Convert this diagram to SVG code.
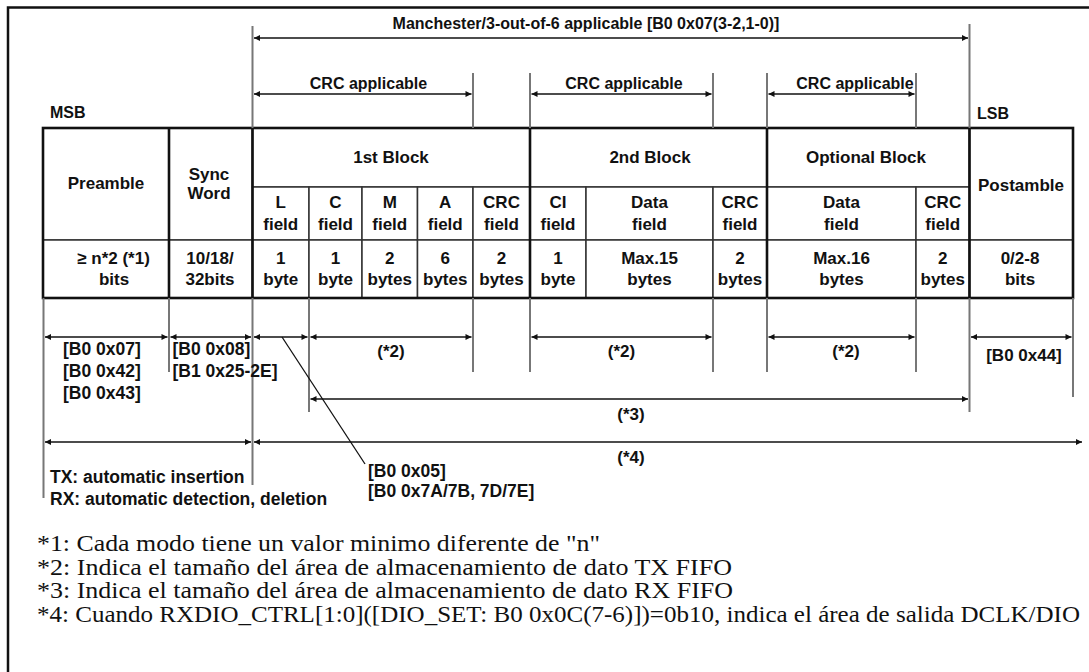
<svg xmlns="http://www.w3.org/2000/svg" width="1089" height="672" viewBox="0 0 1089 672">
<defs>
<style>
.t{font-family:"Liberation Sans",Arial,sans-serif;font-weight:bold;font-size:17px;fill:#111;text-anchor:middle}
.top{font-family:"Liberation Sans",Arial,sans-serif;font-weight:bold;font-size:16px;fill:#111;text-anchor:middle}
.lb{font-family:"Liberation Sans",Arial,sans-serif;font-weight:bold;font-size:17px;fill:#111}
.rg{font-family:"Liberation Sans",Arial,sans-serif;font-weight:bold;font-size:17.5px;fill:#111}
.fn{font-family:"Liberation Serif","Times New Roman",serif;font-size:23.5px;fill:#111}
.cell{fill:#fff;stroke:#333;stroke-width:1.5}
.major{stroke:#111;stroke-width:2.6;fill:none}
.ext{stroke:#777;stroke-width:2;fill:none}
.arr{stroke:#111;stroke-width:1.5;fill:none;marker-start:url(#ah);marker-end:url(#ah)}
</style>
<marker id="ah" viewBox="0 0 10 10" refX="10" refY="5" markerWidth="8" markerHeight="6" orient="auto-start-reverse" markerUnits="userSpaceOnUse">
<path d="M0,0 L10,5 L0,10 z" fill="#111"/>
</marker>
</defs>
<rect width="1089" height="672" fill="#fff"/>
<path id="frame" d="M8,672 V7.5 H1089" fill="none" stroke="#111" stroke-width="2.5"/>

<g id="header-labels">
<text class="top" x="586" y="29">Manchester/3-out-of-6 applicable [B0 0x07(3-2,1-0)]</text>
<text class="top" x="368.5" y="89">CRC applicable</text>
<text class="top" x="624" y="89">CRC applicable</text>
<text class="top" x="855" y="89">CRC applicable</text>
<text class="lb" x="50" y="118" style="font-size:16px">MSB</text>
<text class="lb" x="977" y="119" style="font-size:16px">LSB</text>
</g>

<g id="table">
<g id="cell-preamble"><rect class="cell" x="43" y="128" width="126" height="112"/><text class="t" x="106" y="189">Preamble</text></g>
<g id="cell-preamble-len"><rect class="cell" x="43" y="240" width="126" height="58"/><text class="t" x="113.5" y="264">≥ n*2 (*1)</text><text class="t" x="114" y="284.5">bits</text></g>
<g id="cell-sync"><rect class="cell" x="169" y="128" width="83.5" height="112"/><text class="t" x="209" y="180">Sync</text><text class="t" x="209" y="199">Word</text></g>
<g id="cell-sync-len"><rect class="cell" x="169" y="240" width="83.5" height="58"/><text class="t" x="210" y="264">10/18/</text><text class="t" x="210" y="284.5">32bits</text></g>
<g id="cell-block1"><rect class="cell" x="252.5" y="128" width="277.5" height="59"/><text class="t" x="391" y="162.5">1st Block</text></g>
<g id="cell-l"><rect class="cell" x="252.5" y="187" width="56.5" height="53"/><text class="t" x="280.75" y="208">L</text><text class="t" x="280.75" y="230">field</text></g>
<g id="cell-l-len"><rect class="cell" x="252.5" y="240" width="56.5" height="58"/><text class="t" x="280.75" y="264">1</text><text class="t" x="280.75" y="284.5">byte</text></g>
<g id="cell-c"><rect class="cell" x="309" y="187" width="53" height="53"/><text class="t" x="335.5" y="208">C</text><text class="t" x="335.5" y="230">field</text></g>
<g id="cell-c-len"><rect class="cell" x="309" y="240" width="53" height="58"/><text class="t" x="335.5" y="264">1</text><text class="t" x="335.5" y="284.5">byte</text></g>
<g id="cell-m"><rect class="cell" x="362" y="187" width="55.5" height="53"/><text class="t" x="389.75" y="208">M</text><text class="t" x="389.75" y="230">field</text></g>
<g id="cell-m-len"><rect class="cell" x="362" y="240" width="55.5" height="58"/><text class="t" x="389.75" y="264">2</text><text class="t" x="389.75" y="284.5">bytes</text></g>
<g id="cell-a"><rect class="cell" x="417.5" y="187" width="55.5" height="53"/><text class="t" x="445.25" y="208">A</text><text class="t" x="445.25" y="230">field</text></g>
<g id="cell-a-len"><rect class="cell" x="417.5" y="240" width="55.5" height="58"/><text class="t" x="445.25" y="264">6</text><text class="t" x="445.25" y="284.5">bytes</text></g>
<g id="cell-crc1"><rect class="cell" x="473" y="187" width="57" height="53"/><text class="t" x="501.5" y="208">CRC</text><text class="t" x="501.5" y="230">field</text></g>
<g id="cell-crc1-len"><rect class="cell" x="473" y="240" width="57" height="58"/><text class="t" x="501.5" y="264">2</text><text class="t" x="501.5" y="284.5">bytes</text></g>
<g id="cell-block2"><rect class="cell" x="530" y="128" width="237" height="59"/><text class="t" x="650" y="162.5">2nd Block</text></g>
<g id="cell-ci"><rect class="cell" x="530" y="187" width="56" height="53"/><text class="t" x="558" y="208">CI</text><text class="t" x="558" y="230">field</text></g>
<g id="cell-ci-len"><rect class="cell" x="530" y="240" width="56" height="58"/><text class="t" x="558" y="264">1</text><text class="t" x="558" y="284.5">byte</text></g>
<g id="cell-data2"><rect class="cell" x="586" y="187" width="127" height="53"/><text class="t" x="649.5" y="208">Data</text><text class="t" x="649.5" y="230">field</text></g>
<g id="cell-data2-len"><rect class="cell" x="586" y="240" width="127" height="58"/><text class="t" x="649.5" y="264">Max.15</text><text class="t" x="649.5" y="284.5">bytes</text></g>
<g id="cell-crc2"><rect class="cell" x="713" y="187" width="54" height="53"/><text class="t" x="740" y="208">CRC</text><text class="t" x="740" y="230">field</text></g>
<g id="cell-crc2-len"><rect class="cell" x="713" y="240" width="54" height="58"/><text class="t" x="740" y="264">2</text><text class="t" x="740" y="284.5">bytes</text></g>
<g id="cell-optional"><rect class="cell" x="767" y="128" width="202.5" height="59"/><text class="t" x="866" y="162.5">Optional Block</text></g>
<g id="cell-data3"><rect class="cell" x="767" y="187" width="149" height="53"/><text class="t" x="841.5" y="208">Data</text><text class="t" x="841.5" y="230">field</text></g>
<g id="cell-data3-len"><rect class="cell" x="767" y="240" width="149" height="58"/><text class="t" x="841.5" y="264">Max.16</text><text class="t" x="841.5" y="284.5">bytes</text></g>
<g id="cell-crc3"><rect class="cell" x="916" y="187" width="53.5" height="53"/><text class="t" x="942.75" y="208">CRC</text><text class="t" x="942.75" y="230">field</text></g>
<g id="cell-crc3-len"><rect class="cell" x="916" y="240" width="53.5" height="58"/><text class="t" x="942.75" y="264">2</text><text class="t" x="942.75" y="284.5">bytes</text></g>
<g id="cell-postamble"><rect class="cell" x="969.5" y="128" width="103.5" height="112"/><text class="t" x="1021" y="190.5">Postamble</text></g>
<g id="cell-postamble-len"><rect class="cell" x="969.5" y="240" width="103.5" height="58"/><text class="t" x="1020" y="264">0/2-8</text><text class="t" x="1020" y="284.5">bits</text></g>
<g id="table-major-lines">
<rect class="major" x="43" y="128" width="1030" height="170" stroke-width="3"/>
<path class="major" d="M169,128 V298 M252.5,128 V298 M530,128 V298 M767,128 V298 M969.5,128 V298"/>
</g>
</g>

<g id="connectors">
<path class="ext" d="M252.5,26 V128 M969.5,24 V128 M473,73 V128 M530,73 V128 M713,73 V128 M767,73 V128 M916,73 V128"/>
<path class="ext" d="M43.5,298 V498 M169,298 V372 M252.5,298 V485 M309,298 V412 M473,298 V372 M530,298 V372 M713,298 V372 M767,298 V372 M916,298 V372 M969.5,298 V412 M1073,298 V397"/>
<path class="arr" d="M254,38 H968"/>
<path class="arr" d="M254,94 H471.5"/>
<path class="arr" d="M531.5,94 H711.5"/>
<path class="arr" d="M768.5,94 H914.5"/>
<path class="arr" d="M45,337 H167.5"/>
<path class="arr" d="M170.5,337 H251"/>
<path class="arr" d="M254,337 H307.5"/>
<path class="arr" d="M310.5,337 H471.5"/>
<path class="arr" d="M531.5,337 H711.5"/>
<path class="arr" d="M768.5,337 H914.5"/>
<path class="arr" d="M971,337 H1071.5"/>
<path class="arr" d="M310.5,399 H968"/>
<path class="arr" d="M45,442 H251"/>
<path class="arr" d="M254,442 H1082"/>
<path d="M282,337 L365,464" stroke="#111" stroke-width="1.3" fill="none"/>
</g>

<g id="annotations">
<text class="rg" x="63" y="355">[B0 0x07]</text>
<text class="rg" x="63" y="377">[B0 0x42]</text>
<text class="rg" x="63" y="399">[B0 0x43]</text>
<text class="rg" x="172.5" y="355">[B0 0x08]</text>
<text class="rg" x="172.5" y="377">[B1 0x25-2E]</text>
<text class="t" x="391" y="357">(*2)</text>
<text class="t" x="621.5" y="357">(*2)</text>
<text class="t" x="846" y="357">(*2)</text>
<text class="t" x="1024" y="361">[B0 0x44]</text>
<text class="t" x="631" y="420">(*3)</text>
<text class="t" x="631" y="463">(*4)</text>
<text class="rg" x="368" y="477">[B0 0x05]</text>
<text class="rg" x="368" y="497">[B0 0x7A/7B, 7D/7E]</text>
<text class="rg" x="50" y="483">TX: automatic insertion</text>
<text class="rg" x="50" y="505">RX: automatic detection, deletion</text>
</g>

<g id="footnotes">
<text class="fn" x="37" y="551" textLength="563" lengthAdjust="spacingAndGlyphs">*1: Cada modo tiene un valor minimo diferente de "n"</text>
<text class="fn" x="37" y="574.5" textLength="695" lengthAdjust="spacingAndGlyphs">*2: Indica el tamaño del área de almacenamiento de dato TX FIFO</text>
<text class="fn" x="37" y="598" textLength="696" lengthAdjust="spacingAndGlyphs">*3: Indica el tamaño del área de almacenamiento de dato RX FIFO</text>
<text class="fn" x="37" y="621.5" textLength="1043" lengthAdjust="spacingAndGlyphs">*4: Cuando RXDIO_CTRL[1:0]([DIO_SET: B0 0x0C(7-6)])=0b10, indica el área de salida DCLK/DIO</text>
</g>
</svg>
